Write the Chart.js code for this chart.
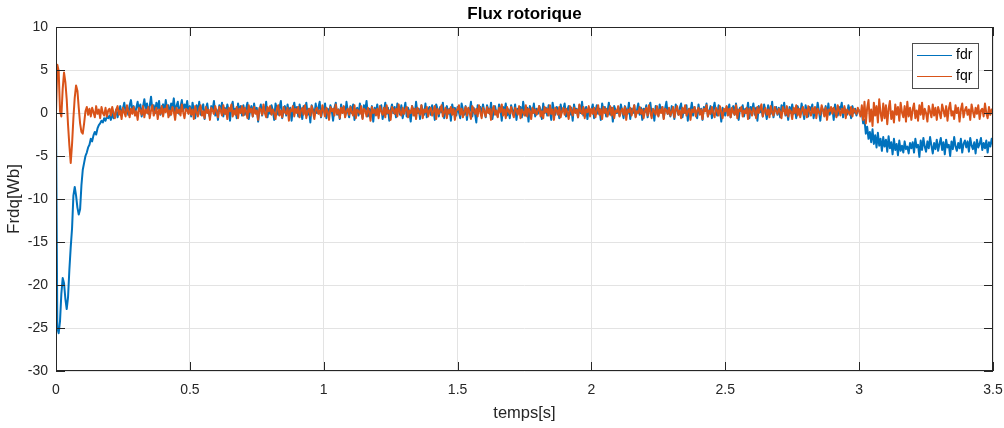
<!DOCTYPE html>
<html>
<head>
<meta charset="utf-8">
<script src="https://cdn.jsdelivr.net/npm/chart.js@4/dist/chart.umd.min.js"></script>
<style>
  html, body { margin: 0; padding: 0; background: #fff; }
  #wrap { width: 1004px; height: 428px; }
</style>
</head>
<body>
<div id="wrap"><canvas id="c" width="1004" height="428"></canvas></div>
<script>
// Rotor flux components, sampled every 5 ms from 0 to 3.5 s
const sampleStep = 0.005;
const xTicks = [0, 0.5, 1, 1.5, 2, 2.5, 3, 3.5];
const yTicks = [-30, -25, -20, -15, -10, -5, 0, 5, 10];
const seriesNames = ['fdr', 'fqr'];
const chartTitle = 'Flux rotorique';

const fdr = [
  0, -25.0, -25.6, -24.2, -21.0, -19.2, -19.8, -21.6, -22.8, -21.4, -18.2, -15.6, -13.4, -9.6, -8.6, -9.6, -11.0, -11.8, -11.2, -8.4,
  -6.6, -5.8, -5.0, -4.6, -4.0, -3.7, -3.0, -3.3, -2.6, -2.2, -2.5, -1.8, -1.4, -1.2, -0.9, -1.1, -0.6, -0.9, -0.4, -0.6,
  -0.3, -0.8, 0.1, -0.6, -0.2, 0.4, -0.5, 0.2, 0.8, -0.3, 0.5, 1.2, 0.1, 0.7, -0.2, 0.9, 1.5, 0.3, 0.8, -0.1,
  0.6, 1.3, 0.2, 1.0, -0.4, 0.7, 1.6, 0.4, 1.1, -0.1, 0.8, 1.9, 0.3, 0.9, 0.0, 1.2, 0.5, 1.4, -0.2, 0.6,
  1.0, 0.2, 1.5, 0.4, 0.9, -0.3, 1.1, 0.6, 1.7, 0.1, 0.8, 1.3, -0.1, 0.7, 1.5, 0.3, 1.0, 0.5, 1.4, 0.0,
  0.8, -0.4, 1.2, 0.3, -0.6, 0.9, 0.1, 1.3, -0.2, 0.6, 1.0, -0.7, 0.5, 1.1, 0.0, -0.5, 0.8, 0.3, 1.4, -0.3,
  0.4, -0.8, 0.9, 0.2, 1.2, -0.4, 0.6, -0.1, 1.0, 0.3, -0.9, 0.7, 1.3, 0.0, 0.5, -0.6, 1.1, 0.2, 0.8, -0.3,
  0.9, -0.2, 0.5, 1.2, -0.7, 0.3, 0.8, -0.4, 1.1, 0.1, 0.6, -1.0, 0.4, 1.0, -0.3, 0.7, 0.2, 1.3, -0.5, 0.5,
  -0.1, 0.9, 0.3, -0.8, 1.1, 0.4, -0.2, 0.7, 1.4, -0.6, 0.2, 0.8, -0.3, 1.0, 0.0, 0.6, -0.9, 0.5, 1.2, 0.1,
  0.7, -0.4, 1.0, 0.2, -0.7, 0.8, 0.3, 1.2, -0.2, 0.5, -1.1, 0.9, 0.4, -0.3, 1.1, 0.0, 0.6, 1.3, -0.5, 0.3,
  0.2, 1.1, -0.6, 0.5, -0.1, 0.9, 0.3, -0.9, 0.6, 1.2, -0.2, 0.4, -0.7, 1.0, 0.1, 0.7, -0.4, 1.3, 0.2, -0.5,
  0.8, 0.0, 1.0, -0.8, 0.4, 0.6, -0.3, 1.1, 0.2, -0.6, 0.9, 0.3, 1.4, -0.4, 0.5, -0.1, 0.8, -1.0, 0.6, 0.1,
  1.0, -0.3, 0.5, 0.9, -0.7, 0.2, 1.2, -0.1, 0.6, -0.9, 0.3, 1.0, 0.0, 0.7, -0.5, 1.1, 0.4, -0.2, 0.9, -0.6,
  0.3, 1.2, -0.4, 0.6, 0.1, -1.0, 0.8, 0.4, -0.3, 1.3, 0.0, 0.5, -0.7, 0.9, 0.2, -0.2, 1.1, -0.5, 0.4, 0.7,
  -0.2, 0.9, 0.3, -0.8, 1.0, 0.5, -0.4, 0.7, 0.1, 1.2, -0.6, 0.3, 0.8, -0.1, 0.5, -0.9, 1.0, 0.2, 0.6, -0.3,
  0.7, 0.1, -0.6, 1.1, 0.4, -0.2, 0.8, -0.8, 0.5, 0.2, 1.3, -0.4, 0.6, 0.0, -1.1, 0.9, 0.3, 0.7, -0.3, 1.0,
  0.2, -0.5, 0.9, 0.4, -0.1, 1.2, -0.7, 0.3, 0.8, 0.0, -0.4, 1.0, 0.5, -0.9, 0.7, 0.2, 1.1, -0.3, 0.4, -0.6,
  0.9, 0.3, -0.2, 1.0, -0.8, 0.5, 0.1, 0.7, -0.5, 1.3, 0.2, -0.3, 0.6, -1.0, 0.8, 0.4, 0.0, 1.1, -0.4, 0.5,
  -0.1, 0.8, 0.4, -0.7, 1.1, 0.0, 0.6, -0.3, 0.9, 0.2, -0.8, 1.2, 0.3, -0.2, 0.7, 0.5, -0.6, 1.0, 0.1, 0.4,
  1.1, -0.4, 0.3, 0.8, -0.2, 0.6, -0.9, 1.0, 0.2, 0.5, -0.5, 0.9, 0.0, 1.3, -0.3, 0.4, 0.7, -0.7, 0.6, 0.1,
  0.4, 1.0, -0.6, 0.2, 0.9, -0.1, 0.5, -0.8, 1.1, 0.3, 0.7, -0.4, 0.1, 1.2, -0.2, 0.6, -1.0, 0.8, 0.3, 0.0,
  0.7, -0.3, 1.0, 0.2, -0.6, 0.8, 0.4, -0.1, 1.2, -0.7, 0.5, 0.0, 0.9, -0.4, 0.3, 1.1, -0.2, 0.6, -0.8, 0.5,
  0.1, 0.9, -0.5, 0.6, 1.2, -0.2, 0.3, -0.9, 0.8, 0.4, -0.3, 1.0, 0.2, 0.7, -0.6, 0.5, 1.3, -0.1, 0.4, -0.4,
  0.8, 0.2, -0.7, 1.0, 0.3, -0.2, 0.6, 1.1, -0.5, 0.4, 0.0, 0.9, -0.9, 0.5, 0.2, 1.2, -0.3, 0.7, 0.1, -0.6,
  1.0, -0.1, 0.5, -0.8, 0.7, 0.3, 1.1, -0.4, 0.2, 0.8, -0.6, 0.4, 1.2, 0.0, -0.3, 0.9, 0.5, -1.0, 0.6, 0.2,
  -0.3, 0.7, 0.2, 1.0, -0.5, 0.4, 0.8, -0.2, 1.1, 0.1, -0.8, 0.6, 0.3, 0.9, -0.4, 0.5, 0.0, 1.2, -0.6, 0.7,
  0.3, 1.1, -0.2, 0.6, -0.9, 0.8, 0.1, 0.5, -0.4, 1.0, 0.2, -0.7, 0.9, 0.4, -0.1, 1.3, -0.5, 0.3, 0.7, -0.2,
  0.6, -0.5, 0.9, 0.2, 1.2, -0.3, 0.4, -0.8, 0.7, 0.0, 1.0, -0.1, 0.5, -0.6, 0.8, 0.3, -0.2, 1.1, 0.2, -0.7,
  0.9, 0.1, -0.4, 0.7, 0.3, 1.0, -0.6, 0.5, -0.1, 1.2, 0.2, -0.9, 0.6, 0.4, 0.0, 0.8, -0.5, 1.1, -0.2, 0.3,
  0.5, -0.8, 1.0, 0.2, -0.3, 0.7, 0.4, 1.2, -0.5, 0.6, 0.1, -0.2, 0.9, 0.3, -0.6, 0.8, 0.0, 0.5, -0.3, 0.4,
  0.3, -0.2, 0.1, -1.2, -0.8, -2.4, -1.6, -3.0, -2.2, -3.4, -1.9, -3.6, -2.6, -4.0, -2.3, -3.8, -3.0, -4.4, -2.8, -3.9,
  -3.1, -4.5, -2.7, -4.1, -3.4, -4.8, -3.0, -4.3, -3.6, -4.9, -3.2, -4.4, -3.8, -4.6, -3.3, -4.2, -3.9, -4.7, -3.5, -4.1,
  -3.4, -4.6, -3.0, -4.0, -3.7, -5.1, -3.2, -4.3, -2.9, -3.9, -4.5, -3.3, -4.1, -2.8, -3.8, -4.7, -3.5, -4.2, -3.1, -4.4,
  -3.6, -2.9, -4.3, -3.4, -4.8, -3.1, -4.0, -3.7, -5.0, -3.3, -4.2, -2.8, -3.9, -4.4, -3.5, -4.1, -3.0, -4.6, -3.6, -3.2,
  -4.0, -3.3, -4.5, -2.9, -3.8, -4.2, -3.4, -4.7, -3.1, -4.0, -3.6, -2.9, -4.3, -3.5, -4.1, -3.2, -4.6, -3.4, -3.9, -3.0,
  -3.7
];

const fqr = [
  0, 5.6, 4.9, 0.2, -0.4, 2.8, 4.7, 3.6, 1.6, -1.4, -3.8, -5.8, -3.6, -0.6, 1.8, 3.2, 2.6, 0.6, -1.2, -2.2,
  -2.4, -1.2, 0.2, 0.7, -0.2, 0.5, -0.4, 0.6, 0.1, -0.5, 0.8, -0.1, 0.4, -0.6, 0.7, 0.0, -0.3, 0.6, -0.4, 0.3,
  0.5, -0.3, 0.7, 0.0, -0.6, 0.4, 0.8, -0.2, 0.3, -0.7, 0.6, 0.1, -0.4, 0.9, 0.2, -0.5, 0.5, -0.1, 0.7, -0.3,
  0.2, -0.8, 0.6, 0.3, -0.2, 0.8, -0.5, 0.4, 0.0, 0.7, -0.6, 0.3, 0.9, -0.3, 0.1, 0.6, -0.7, 0.4, -0.1, 0.8,
  -0.4, 0.5, 0.1, 0.9, -0.5, 0.3, -0.2, 0.7, 0.2, -0.8, 0.6, 0.0, 0.4, -0.3, 1.0, 0.1, -0.6, 0.5, 0.3, -0.1,
  0.6, -0.2, 0.4, -0.7, 0.8, 0.1, -0.4, 0.5, 0.9, -0.3, 0.2, -0.6, 0.7, 0.0, 0.4, -0.8, 0.6, 0.3, -0.1, 0.8,
  0.1, -0.5, 0.7, 0.3, -0.3, 0.9, -0.1, 0.4, -0.7, 0.6, 0.2, 1.0, -0.4, 0.3, -0.2, 0.7, -0.6, 0.5, 0.0, 0.8,
  -0.3, 0.6, 0.2, -0.6, 0.9, 0.1, 0.5, -0.4, 0.7, -0.1, 0.3, -0.8, 0.6, 0.4, -0.2, 1.0, 0.0, -0.5, 0.7, 0.2,
  0.8, -0.2, 0.4, 0.0, -0.7, 0.5, 0.9, -0.3, 0.3, -0.5, 0.7, 0.1, -0.1, 0.6, -0.9, 0.4, 0.2, 0.8, -0.4, 0.5,
  0.0, 0.7, -0.5, 0.3, 0.6, -0.2, 0.9, -0.6, 0.2, 0.5, -0.3, 0.8, 0.1, -0.7, 0.4, 0.6, -0.1, 0.3, -0.4, 0.9,
  0.3, -0.4, 0.6, 0.1, -0.8, 0.7, 0.2, 0.5, -0.3, 1.0, -0.1, 0.4, -0.6, 0.6, 0.0, 0.8, -0.5, 0.2, 0.5, -0.2,
  0.7, 0.1, -0.3, 0.9, -0.6, 0.4, 0.2, -0.1, 0.8, -0.7, 0.5, 0.3, -0.4, 0.6, 0.1, -0.9, 0.7, 0.0, 0.4, -0.3,
  0.5, -0.6, 0.8, 0.2, -0.2, 0.6, -0.5, 0.9, 0.0, 0.3, -0.8, 0.7, 0.4, -0.1, 0.5, -0.4, 1.0, 0.1, -0.3, 0.6,
  -0.1, 0.4, 0.7, -0.5, 0.3, 0.0, 0.8, -0.3, 0.5, -0.7, 0.6, 0.2, -0.2, 0.9, -0.6, 0.4, 0.1, 0.7, -0.4, 0.3,
  0.6, -0.3, 0.2, 0.8, -0.7, 0.5, -0.1, 0.3, 0.9, -0.4, 0.1, 0.6, -0.6, 0.4, 0.0, 0.7, -0.2, 0.5, -0.8, 0.3,
  0.4, 0.9, -0.2, 0.5, -0.5, 0.2, 0.7, -0.3, 0.6, 0.0, -0.7, 0.8, 0.3, -0.1, 0.5, -0.4, 0.9, 0.1, -0.6, 0.6,
  0.2, -0.4, 0.7, 0.0, 0.5, -0.8, 0.4, 0.8, -0.2, 0.3, -0.5, 0.6, 0.1, 1.0, -0.3, 0.4, -0.6, 0.7, 0.2, -0.1,
  0.7, 0.0, -0.5, 0.6, 0.3, -0.2, 0.8, -0.6, 0.4, 0.1, -0.3, 0.9, -0.4, 0.5, 0.2, -0.7, 0.6, 0.0, 0.4, -0.2,
  0.3, 0.8, -0.4, 0.2, -0.6, 0.7, 0.1, 0.5, -0.3, 0.9, -0.1, 0.4, -0.8, 0.6, 0.3, -0.2, 0.7, -0.5, 0.2, 0.6,
  -0.2, 0.5, 0.1, -0.7, 0.8, 0.3, -0.3, 0.6, 0.0, 0.4, -0.5, 1.0, 0.2, -0.1, 0.7, -0.6, 0.4, 0.1, 0.8, -0.4,
  0.5, -0.1, 0.6, -0.5, 0.3, 0.9, -0.2, 0.4, -0.7, 0.7, 0.0, 0.5, -0.4, 0.2, 0.8, -0.3, 0.6, -0.6, 0.3, 0.1,
  0.8, -0.4, 0.2, 0.5, -0.2, 0.7, -0.8, 0.4, 0.1, 0.6, -0.3, 0.3, 0.9, -0.5, 0.2, 0.0, 0.7, -0.1, 0.4, -0.6,
  0.3, 0.6, -0.3, 0.9, 0.1, -0.6, 0.5, 0.2, -0.2, 0.8, -0.4, 0.4, 0.0, 0.7, -0.7, 0.5, 0.3, -0.1, 0.6, -0.3,
  0.1, 0.7, -0.5, 0.4, 0.8, -0.2, 0.3, -0.6, 0.6, 0.0, 0.9, -0.3, 0.2, 0.5, -0.8, 0.4, 0.1, 0.7, -0.4, 0.3,
  0.6, -0.2, 0.4, -0.7, 0.5, 0.2, 0.9, -0.4, 0.3, -0.1, 0.7, 0.0, -0.5, 0.6, 0.3, -0.3, 0.8, 0.1, -0.6, 0.5,
  0.2, 0.8, -0.3, 0.5, -0.5, 0.6, 0.1, -0.2, 0.9, -0.6, 0.4, 0.2, 0.7, -0.4, 0.3, 0.0, 0.6, -0.7, 0.5, 0.2,
  -0.3, 0.6, 0.3, -0.6, 0.7, 0.0, 0.5, 1.0, -0.4, 0.2, 0.6, -0.2, 0.4, -0.5, 0.8, 0.1, -0.3, 0.7, 0.2, -0.1,
  0.5, 0.1, -0.6, 0.7, 0.3, -0.2, 0.8, -0.4, 0.4, 0.2, -0.7, 0.6, 0.0, 0.9, -0.3, 0.5, -0.5, 0.3, 0.7, -0.2,
  0.4, -0.5, 0.8, 0.2, -0.3, 0.6, 0.0, 0.7, -0.6, 0.5, 0.1, -0.2, 0.9, 0.3, -0.4, 0.6, -0.8, 0.4, 0.2, 0.7,
  -0.1, 0.6, 0.2, -0.5, 0.9, 0.3, -0.3, 0.5, 0.0, 0.8, -0.6, 0.4, 0.1, -0.2, 0.7, -0.4, 0.5, 0.2, -0.1, 0.6,
  0.2, -0.4, 0.9, -0.8, 1.3, -1.2, 0.6, 1.5, -1.0, 0.4, -1.5, 1.2, -0.3, 0.8, -1.1, 1.6, 0.0, -0.9, 1.1, -0.6,
  0.9, -1.3, 0.5, 1.4, -0.7, 0.2, -1.1, 1.0, -0.2, 0.7, -0.9, 1.2, 0.1, -0.5, 0.8, -1.0, 1.3, -0.4, 0.6, -0.8,
  0.4, 1.1, -0.6, 0.3, -0.9, 0.9, -0.2, 1.2, -0.7, 0.5, 0.0, -1.0, 0.8, 0.2, -0.5, 1.0, -0.3, 0.6, -0.8, 0.7,
  0.1, -0.6, 1.0, 0.3, -0.4, 0.8, -0.9, 0.5, 1.2, -0.3, 0.2, -0.7, 0.9, 0.0, 0.6, -1.0, 0.4, 1.1, -0.5, 0.3,
  0.7, -0.2, 0.4, -0.8, 1.0, 0.2, -0.5, 0.6, -0.1, 0.9, -0.7, 0.3, 0.5, -0.4, 1.1, 0.0, -0.6, 0.7, -0.2, 0.4,
  0.1
];

const COLORS = { fdr: '#0072BD', fqr: '#D95319' };
const AXIS_COLOR = '#262626';
const GRID_COLOR = '#e3e3e3';
const FONT = '"Liberation Sans", Arial, Helvetica, sans-serif';

function toPoints(values) {
  return values.map((v, i) => ({ x: i * sampleStep, y: v }));
}

// MATLAB-style frame: title over the axes, full box, inward tick marks, boxed legend
const framePlugin = {
  id: 'frame',
  afterDatasetsDraw(chart) {
    const { ctx, chartArea: a, scales } = chart;
    const len = 9;
    ctx.save();
    ctx.strokeStyle = AXIS_COLOR;
    ctx.lineWidth = 1;
    ctx.beginPath();
    scales.x.ticks.forEach(t => {
      const px = Math.round(scales.x.getPixelForValue(t.value)) + 0.5;
      ctx.moveTo(px, a.bottom); ctx.lineTo(px, a.bottom - len);
      ctx.moveTo(px, a.top); ctx.lineTo(px, a.top + len);
    });
    scales.y.ticks.forEach(t => {
      const py = Math.round(scales.y.getPixelForValue(t.value)) + 0.5;
      ctx.moveTo(a.left, py); ctx.lineTo(a.left + len, py);
      ctx.moveTo(a.right, py); ctx.lineTo(a.right - len, py);
    });
    ctx.stroke();
    ctx.strokeRect(Math.round(a.left) + 0.5, Math.round(a.top) + 0.5,
                   Math.round(a.right - a.left) - 1, Math.round(a.bottom - a.top) - 1);

    // title centred over the axes
    ctx.fillStyle = '#000';
    ctx.font = 'bold 17px ' + FONT;
    ctx.textAlign = 'center';
    ctx.textBaseline = 'alphabetic';
    ctx.fillText(chartTitle, (a.left + a.right) / 2, a.top - 8);

    // legend box in the upper right corner
    const bx = a.right - 81, by = a.top + 16, bw = 66, bh = 45;
    ctx.fillStyle = '#fff';
    ctx.fillRect(bx, by, bw, bh);
    ctx.strokeStyle = '#4d4d4d';
    ctx.strokeRect(bx + 0.5, by + 0.5, bw, bh);
    ctx.font = '14px ' + FONT;
    ctx.textBaseline = 'middle';
    ctx.textAlign = 'left';
    chart.data.datasets.forEach((ds, i) => {
      const ly = by + 12.5 + i * 21;
      ctx.strokeStyle = ds.borderColor;
      ctx.lineWidth = 1;
      ctx.beginPath();
      ctx.moveTo(bx + 5, ly); ctx.lineTo(bx + 40, ly);
      ctx.stroke();
      ctx.fillStyle = '#000';
      ctx.fillText(ds.label, bx + 44, ly);
    });
    ctx.restore();
  }
};

new Chart(document.getElementById('c'), {
  type: 'line',
  data: {
    datasets: [
      { label: seriesNames[0], data: toPoints(fdr), borderColor: COLORS.fdr, borderWidth: 2, order: 1 },
      { label: seriesNames[1], data: toPoints(fqr), borderColor: COLORS.fqr, borderWidth: 2, order: 0 }
    ]
  },
  options: {
    responsive: false,
    animation: false,
    parsing: false,
    normalized: true,
    layout: { padding: { left: 0, right: 0, top: 27, bottom: 0 } },
    elements: { point: { radius: 0 }, line: { tension: 0, borderJoinStyle: 'round' } },
    plugins: {
      legend: { display: false },
      tooltip: { enabled: false },
      title: { display: false }
    },
    scales: {
      x: {
        type: 'linear',
        min: 0,
        max: 3.5,
        afterBuildTicks: s => { s.ticks = xTicks.map(v => ({ value: v })); },
        afterFit: s => { s.height = 57; s.paddingRight = 11; },
        ticks: {
          color: AXIS_COLOR,
          font: { family: FONT, size: 14 },
          padding: 10.6,
          maxRotation: 0,
          autoSkip: false,
          callback: v => String(v)
        },
        grid: { color: GRID_COLOR, drawTicks: false },
        border: { display: false },
        title: {
          display: true,
          text: 'temps[s]',
          color: AXIS_COLOR,
          font: { family: FONT, size: 16.5 },
          padding: { top: 0, bottom: 4.5 }
        }
      },
      y: {
        type: 'linear',
        min: -30,
        max: 10,
        afterBuildTicks: s => { s.ticks = yTicks.map(v => ({ value: v })); },
        afterFit: s => { s.width = 56; },
        ticks: {
          color: AXIS_COLOR,
          font: { family: FONT, size: 14 },
          padding: 8,
          autoSkip: false,
          callback: v => String(v)
        },
        grid: { color: GRID_COLOR, drawTicks: false },
        border: { display: false },
        title: {
          display: true,
          text: 'Frdq[Wb]',
          color: AXIS_COLOR,
          font: { family: FONT, size: 17 },
          padding: { top: 4.3, bottom: 0 }
        }
      }
    }
  },
  plugins: [framePlugin]
});
</script>
</body>
</html>
